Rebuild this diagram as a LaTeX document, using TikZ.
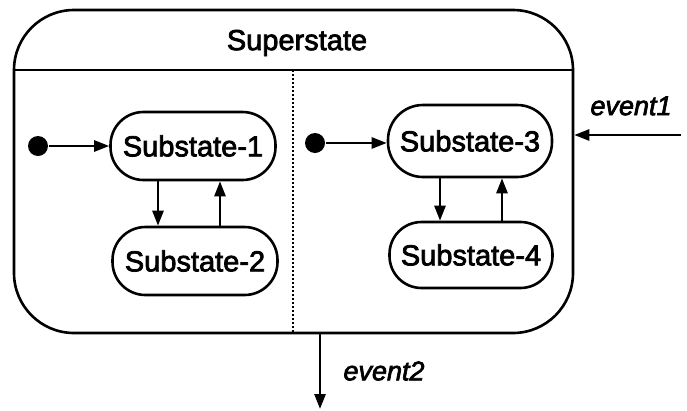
\documentclass[tikz,border=0pt]{standalone}
\usepackage{fontspec}
\setmainfont{Liberation Sans}
\newfontfamily\heavyfont{Liberation Sans}[FakeBold=2.5]
\newfontfamily\heavyital{Liberation Sans Italic}[FakeBold=2.5]
\usetikzlibrary{arrows.meta}
\begin{document}
\begin{tikzpicture}[x=1pt,y=-1pt,
  line width=2.6pt,
  every node/.style={font=\fontsize{29}{34}\heavyfont},
  sub/.style={draw, rounded corners=33pt, minimum width=165pt, minimum height=68pt, inner sep=0pt},
  initdot/.style={circle, fill=black, minimum size=20pt, inner sep=0pt},
  tr/.style={-{Triangle[length=15pt,width=11pt]}},
  evlabel/.style={font=\fontsize{27}{32}\heavyital}]
\useasboundingbox (0,0) rectangle (687,410);
% superstate
\node[draw, rounded corners=60pt, minimum width=559pt, minimum height=323pt, inner sep=0pt] (super) at (293.5,171.5) {};
\node (stitle) at (297,43) {Superstate};
\coordinate (hl) at (14,70);
\coordinate (hr) at (573,70);
\draw (hl) -- (hr);
\coordinate (dtop) at (293,70);
\coordinate (dbot) at (293,333);
\draw[dash pattern=on 2pt off 2pt, line width=2.2pt] (dtop) -- (dbot);
% left region
\node[initdot] (i1) at (38,146) {};
\node[sub] (s1) at (193,146) {Substate-1};
\node[sub] (s2) at (195,261) {Substate-2};
\draw[tr] (i1) -- (s1);
\coordinate (a1) at (158,0);
\coordinate (a2) at (220,0);
\draw[tr] (a1 |- s1.south) -- (a1 |- s2.north);
\draw[tr] (a2 |- s2.north) -- (a2 |- s1.south);
% right region
\node[initdot] (i2) at (315,143) {};
\node[sub, minimum width=164pt, minimum height=72pt, rounded corners=35pt] (s3) at (470,141) {Substate-3};
\node[sub, minimum width=163pt, minimum height=66pt, rounded corners=32pt] (s4) at (471,255) {Substate-4};
\draw[tr] (i2) -- (s3.west |- i2);
\coordinate (a3) at (440,0);
\coordinate (a4) at (502,0);
\draw[tr] (a3 |- s3.south) -- (a3 |- s4.north);
\draw[tr] (a4 |- s4.north) -- (a4 |- s3.south);
% events
\coordinate (e1) at (681,135);
\draw[tr] (e1) -- (e1 -| super.east);
\node[evlabel] (l1) at (631,106) {event1};
\coordinate (e2) at (320,409);
\draw[tr] (e2 |- super.south) -- (e2);
\node[evlabel] (l2) at (384,371) {event2};
\end{tikzpicture}
\end{document}
